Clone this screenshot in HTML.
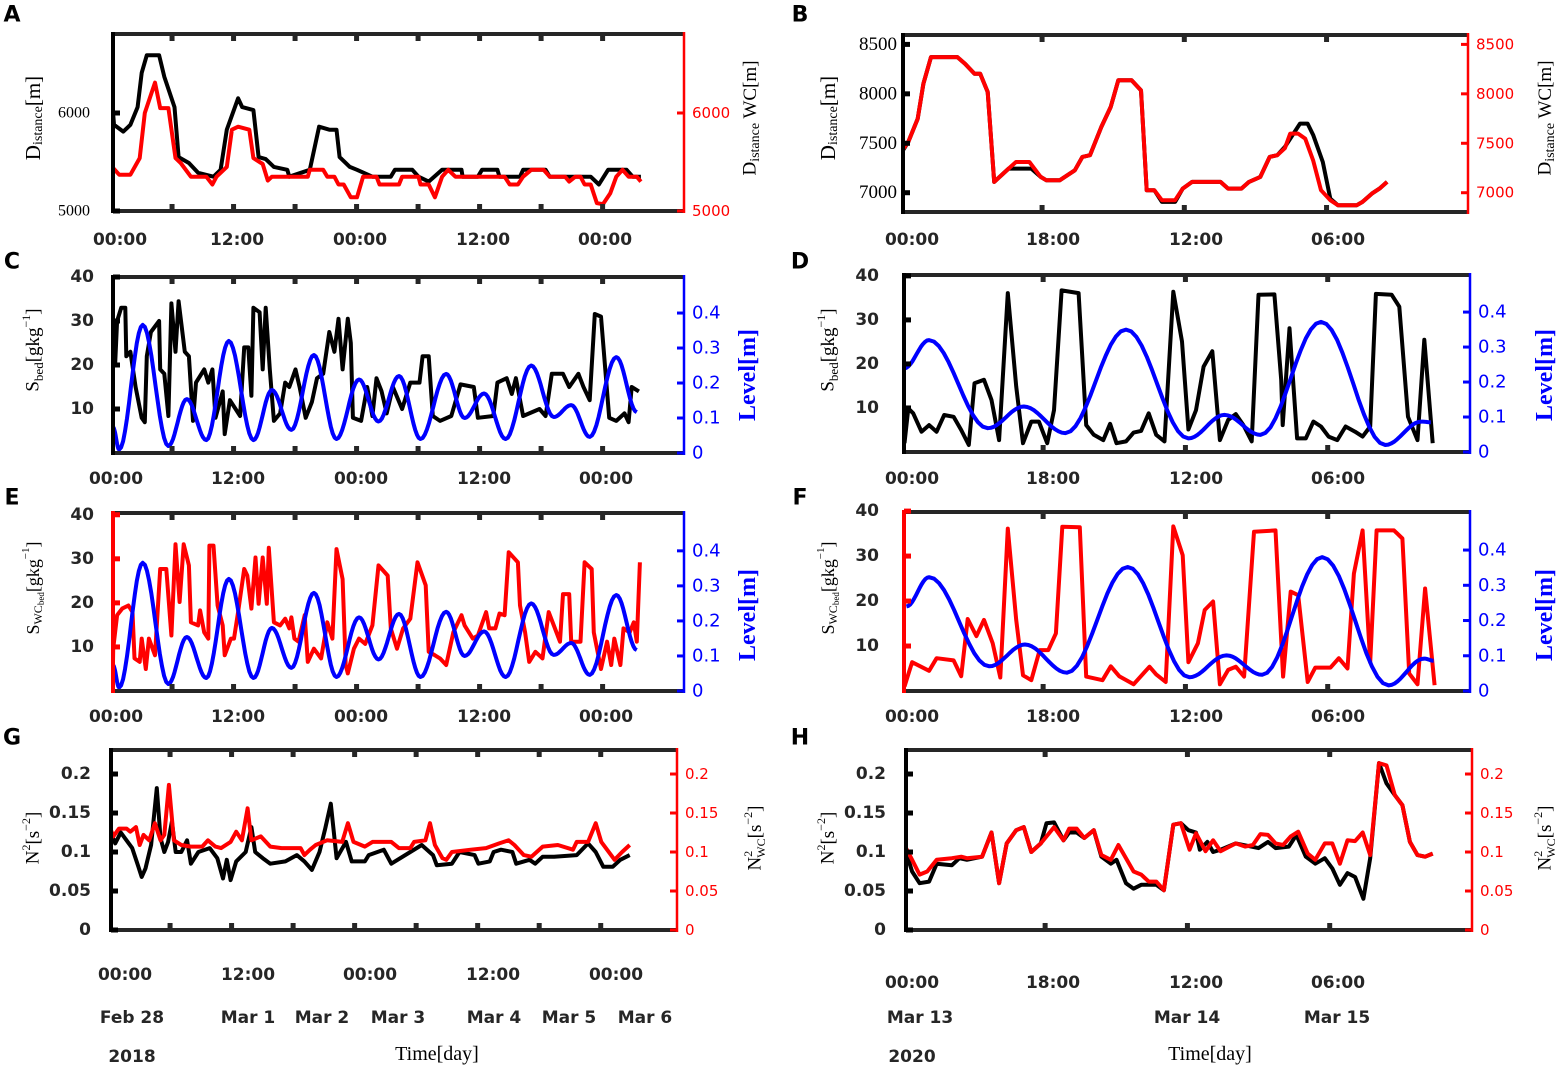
<!DOCTYPE html>
<html><head><meta charset="utf-8"><style>
html,body{margin:0;padding:0;background:#fff;}
svg{display:block;}
.tk{font-family:"DejaVu Sans","Liberation Sans",sans-serif;font-weight:bold;font-size:17px;fill:#262626;}
.st{font-family:"Liberation Serif","DejaVu Serif",serif;}
.sb{font-family:"Liberation Serif","DejaVu Serif",serif;font-weight:bold;}
.sn{font-family:"DejaVu Sans","Liberation Sans",sans-serif;}
</style></head><body>
<svg id="fig" width="1564" height="1072" viewBox="0 0 1564 1072" xmlns="http://www.w3.org/2000/svg"></svg>
<script>
// ---------- Panel A (2018 distance) ----------
const aBlackT=[0,0.1,1,1.7,2.4,2.8,3.3,4.5,5.0,6.0,6.4,7.4,8.3,9.8,10.5,11.1,12.2,12.6,13.7,14.2,14.9,15.7,17.0,17.2,19.2,20.1,21.1,21.8,22.1,23.1,23.8,25.3,27.1,27.5,29.2,29.8,30.8,32.1,34.0,34.1,35.6,36.0,37.5,37.7,39.7,40.0,42.2,42.6,46.6,47.4,48.3,50.1,50.7,51.5];
const aBlackV=[6010,5880,5810,5880,6060,6410,6590,6590,6370,6060,5550,5490,5390,5350,5420,5830,6150,6060,6030,5550,5530,5450,5420,5350,5420,5860,5830,5830,5550,5450,5420,5350,5350,5420,5420,5350,5300,5420,5420,5350,5350,5420,5420,5350,5350,5420,5420,5350,5350,5270,5420,5420,5350,5350];
const aRedT=[0,0.6,1.7,2.6,3.1,4.1,4.6,5.4,6.1,6.6,7.6,9.1,9.7,10.1,11.1,11.6,12.2,13.3,13.7,14.6,15.1,15.5,19.0,19.2,20.5,20.9,21.6,22.0,22.5,23.2,23.8,24.4,25.7,26.0,27.9,28.2,29.8,30.0,30.8,31.4,32.1,32.7,33.4,38.2,38.7,39.5,40.0,40.8,42.0,42.6,44.1,44.5,45.1,45.6,46.0,46.6,47.2,47.8,48.5,49.1,49.7,50.3,51.1,51.5];
const aRedV=[5440,5370,5370,5540,6000,6310,6050,6050,5540,5490,5350,5350,5270,5350,5450,5830,5860,5830,5540,5480,5310,5350,5350,5420,5420,5350,5350,5270,5270,5140,5140,5350,5350,5270,5270,5350,5350,5270,5270,5140,5350,5420,5350,5350,5270,5270,5350,5420,5420,5350,5350,5300,5350,5350,5270,5270,5080,5070,5180,5350,5420,5350,5350,5300];
// ---------- Panel B (2020 distance) ----------
const bBlackT=[0,0.67,1.86,2.58,3.54,6.89,7.85,9.05,9.77,10.72,11.54,13.36,16.23,17.43,18.15,19.83,21.74,22.7,23.66,25.1,26.29,27.25,28.93,30.12,30.84,31.8,32.76,34.44,35.39,36.59,40.18,41.14,42.82,43.78,45.21,46.41,47.37,48.33,50.24,51.2,51.92,53.12,54.07,55.03,57.43,58.15,59.34,60.3,61.26];
const bBlackV=[7429,7514,7749,8103,8372,8372,8305,8204,8204,8019,7109,7244,7244,7160,7126,7126,7227,7362,7379,7665,7867,8137,8137,8035,7025,7025,6907,6907,7042,7109,7109,7042,7042,7109,7160,7362,7379,7463,7699,7699,7581,7311,6941,6874,6874,6907,6991,7042,7109];
const bRedT=[0,0.67,1.86,2.58,3.54,6.89,7.85,9.05,9.77,10.72,11.54,13.36,14.3,16.0,17.43,18.15,19.83,21.74,22.7,23.66,25.1,26.29,27.25,28.93,30.12,30.84,31.8,32.76,34.44,35.39,36.59,40.18,41.14,42.82,43.78,45.21,46.41,47.37,48.33,49.0,50.0,50.9,51.9,52.9,54.07,55.03,57.43,58.15,59.34,60.3,61.26];
const bRedV=[7440,7514,7749,8103,8372,8372,8305,8204,8204,8019,7109,7244,7311,7311,7160,7126,7126,7227,7362,7379,7665,7867,8137,8137,8035,7025,7025,6924,6924,7042,7109,7109,7042,7042,7109,7160,7362,7379,7450,7598,7598,7547,7328,7025,6924,6874,6874,6907,6991,7042,7109];
// ---------- Panels C/E water level (2018) ----------
const lvl18T=[0,0.6,2.9,5.4,7.2,9.1,11.3,13.7,15.5,17.4,19.6,21.8,24.0,25.9,27.9,30.0,32.5,34.3,36.2,38.3,40.8,43.0,44.7,46.5,49.1,51.1];
const lvl18V=[0.074,0.01,0.366,0.02,0.154,0.037,0.32,0.037,0.18,0.066,0.28,0.04,0.21,0.09,0.22,0.04,0.226,0.1,0.17,0.04,0.25,0.103,0.137,0.046,0.274,0.117];
// ---------- Panel C S_bed (2018) ----------
const cSbedT=[0,0.2,0.4,0.8,1.2,1.3,1.7,2.2,2.8,3.1,3.3,3.7,4.5,4.6,5.0,5.4,5.7,6.1,6.4,7.0,7.4,7.8,8.1,8.9,9.3,9.7,10.0,10.7,10.9,11.4,12.4,12.8,13.2,13.5,13.7,14.3,14.6,14.9,15.3,15.7,16.3,16.8,17.2,17.8,18.2,18.8,19.4,19.9,20.5,21.1,21.6,22.0,22.4,22.9,23.2,23.4,24.2,24.8,25.3,25.7,26.2,26.7,27.3,28.2,29.0,29.9,30.2,30.8,31.2,31.9,33.0,33.9,35.2,35.6,37.1,37.5,38.4,38.9,39.3,40.0,41.6,42.2,42.8,43.9,44.5,45.4,45.9,46.5,47.0,47.6,48.4,49.1,49.9,50.3,50.6,51.3];
const cSbedV=[30,20,30,33,33,22,23,15,8,7,22,27.5,30,19,18,8.4,34,23,34.5,23,22,7.3,16,19,16,19,8,14,4.3,12,8.4,24,24,13,33,32,19,33,19,7.3,9,16,15,19,15,8,11.6,17,18,27.5,23,30.5,19,30.5,25,8,7.3,15,8.4,17,14,9,15,10,16,16,22,22,8.4,7.3,8.4,15.6,15,8,8.4,16,17,13.4,17,8.4,10,8.4,18,18,15,18,15,12,31.6,31,8,7.3,9,7,15,14];
// ---------- Panel E S_WC_bed (2018) ----------
const eSwcT=[0,0.02,0.4,0.9,1.5,1.9,2.1,2.6,2.8,3.2,3.5,4.1,4.6,5.2,5.7,6.1,6.5,6.9,7.4,7.6,8.3,8.5,8.9,9.3,9.4,9.8,10.2,10.7,10.9,11.5,11.8,12.2,12.8,13.1,13.5,13.9,14.2,14.6,15.0,15.2,15.7,16.3,16.8,17.2,17.4,17.7,18.1,18.7,19.0,19.6,20.3,20.9,21.4,21.8,22.4,22.7,22.9,23.5,24.0,24.6,25.3,25.9,26.8,27.1,27.7,28.3,29.0,29.7,30.5,30.8,31.4,31.9,32.5,33.2,34.0,34.3,35.1,35.6,36.4,36.7,37.3,37.7,38.2,38.6,39.5,39.7,40.2,40.6,41.2,41.9,42.5,43.0,43.6,43.9,44.5,44.7,45.6,46.0,46.7,46.9,47.6,48.2,48.6,48.9,49.5,49.8,50.4,50.8,51.1,51.4];
const eSwcV=[6.6,9.6,17.2,18.7,19.4,17.9,7.4,6.6,11.9,5,11.9,8.1,27.7,27.7,12.6,33.3,20.2,33.3,28.5,15.6,14.9,18.3,13.3,11.9,33,33,19.4,14.9,8.1,11.9,11.9,17.9,27.7,26.2,18.7,30.3,19.8,30.3,19.8,32.5,15.6,14.9,16.4,14.2,16.7,11.9,11.2,17.2,6.6,9.6,7.4,15.6,11.9,32.2,25.4,5.9,4,9.6,11.9,10.7,14.9,28.5,26.2,14.2,9.6,14.2,16.4,29.2,24,8.9,8.1,7.4,5.9,13.3,17.2,14.9,11.9,12.6,17.9,14.2,14.2,17.6,17.2,31.5,29.2,19.4,13.3,6.6,8.9,7.4,17.9,14.9,11.2,22,22,11.2,11.2,29.2,27.7,13.3,5,11.2,5.9,11.9,5.9,14.2,13.3,15.6,11.2,29.2];
// ---------- Panel D (2020) ----------
const dSbedT=[0.06,0.54,1.16,2.21,3.17,4.13,5.09,6.28,7.24,8.2,8.92,10.12,11.07,12.03,13.13,14.19,15.05,16.1,17.06,18.12,18.98,19.94,22.09,23.05,24.01,25.21,26.07,26.88,28.08,29.04,29.99,30.95,31.91,32.96,34.07,35.17,35.98,36.94,37.9,39.0,39.96,41.01,41.97,42.93,43.98,44.84,46.86,47.72,47.91,48.77,49.73,50.83,51.79,52.75,53.71,54.81,55.86,57.06,58.02,58.97,59.69,61.7,62.66,63.76,64.96,65.82,66.88];
const dSbedV=[2.0,9.9,8.8,4.6,6.1,4.6,8.4,8.0,5.0,1.6,15.6,16.4,11.8,2.7,36.1,14.9,2.0,6.9,6.9,2.0,9.5,36.7,36.1,6.1,3.9,2.7,6.4,2.0,2.4,4.4,4.8,8.8,3.9,2.4,36.4,25.1,5.1,9.5,19.4,22.9,2.7,7.3,8.6,6.1,2.4,35.7,35.8,16.4,6.1,28.1,3.1,3.1,6.9,5.8,3.5,2.7,5.8,4.6,3.5,5.8,35.9,35.7,33.0,8.0,2.7,25.5,2.0];
const lvlDT=[0,3.17,10.6,15.15,20.42,28.08,35.98,40.53,45.08,52.75,60.89,65.44,66.64];
const lvlDV=[0.239,0.32,0.068,0.13,0.054,0.35,0.039,0.106,0.049,0.372,0.02,0.087,0.085];
// ---------- Panel F (2020) ----------
const fSwcT=[0.06,1.02,3.17,4.13,6.28,7.24,8.06,9.16,10.12,11.22,12.18,13.13,14.19,15.05,16.1,17.16,18.26,19.22,20.03,22.24,23.05,25.11,26.16,27.22,29.04,31.05,31.91,33.11,34.07,35.26,35.98,37.18,38.04,39.1,39.96,41.01,41.97,43.02,44.27,47.0,47.96,48.92,49.87,51.07,52.03,53.95,55.0,56.1,56.91,58.02,58.97,59.79,61.99,63.05,63.91,64.96,65.92,67.12];
const fSwcV=[1.0,6.4,4.5,7.3,6.8,3.3,16.0,12.2,15.8,10.6,3.0,36.1,15.8,3.5,2.4,9.1,9.1,12.8,36.5,36.4,3.2,2.4,5.5,3.3,1.5,5.4,3.7,2.0,36.6,30.2,6.4,10.6,18.0,19.9,1.5,4.7,5.4,3.2,35.4,35.7,3.2,22.1,21.3,2.0,5.2,5.2,7.3,5.0,26.1,35.7,6.4,35.7,35.7,33.9,3.9,1.5,22.8,1.3];
const lvlFT=[0.3,3.17,10.8,15.3,20.6,28.3,36.1,40.8,45.3,52.9,61.3,65.8,67.0];
const lvlFV=[0.24,0.323,0.07,0.132,0.052,0.352,0.039,0.101,0.046,0.38,0.016,0.092,0.086];
// ---------- Panel G (2018 N2) ----------
const gBlackT=[0,0.41,0.96,1.51,2.07,2.62,2.99,3.36,3.91,4.47,4.83,5.2,5.57,5.94,6.31,6.86,7.42,7.79,8.52,9.63,10.37,10.92,11.29,11.66,12.21,13.14,13.69,14.06,14.8,15.54,17.01,18.12,18.86,19.59,20.33,20.89,21.44,22.0,22.92,23.47,24.76,25.13,26.61,27.34,29.19,30.3,31.4,31.77,33.25,33.99,35.46,35.83,36.94,37.31,38.04,39.15,39.52,40.81,41.37,42.1,43.21,45.42,46.53,47.27,48.01,48.93,49.67,50.59];
const gBlackV=[0.124,0.111,0.125,0.115,0.105,0.083,0.068,0.079,0.109,0.182,0.118,0.1,0.113,0.139,0.1,0.1,0.115,0.085,0.1,0.105,0.092,0.066,0.09,0.064,0.088,0.1,0.132,0.1,0.092,0.085,0.088,0.096,0.088,0.077,0.1,0.13,0.162,0.092,0.113,0.088,0.088,0.096,0.103,0.085,0.1,0.109,0.096,0.083,0.085,0.1,0.096,0.085,0.088,0.1,0.103,0.1,0.085,0.09,0.085,0.094,0.094,0.096,0.111,0.1,0.081,0.081,0.09,0.096];
const gRedT=[0,0.22,0.78,1.51,1.88,2.44,2.8,3.17,3.73,4.28,4.83,5.2,5.65,6.13,6.86,7.79,8.89,9.45,10.18,10.74,11.66,12.21,12.77,13.32,13.69,14.61,15.54,16.64,18.49,18.86,19.41,19.96,21.07,22.55,23.1,23.65,24.76,25.5,27.34,28.08,29.19,29.56,30.66,31.11,31.59,32.33,32.7,33.25,35.09,36.57,37.86,38.78,39.34,40.26,41.0,42.1,43.58,45.06,45.42,46.53,47.27,47.82,49.11,49.85,50.59];
const gRedV=[0.128,0.12,0.13,0.13,0.126,0.132,0.109,0.122,0.115,0.137,0.115,0.122,0.186,0.115,0.109,0.107,0.107,0.115,0.107,0.105,0.113,0.126,0.115,0.156,0.115,0.12,0.107,0.105,0.105,0.096,0.103,0.109,0.115,0.113,0.137,0.113,0.107,0.113,0.113,0.105,0.105,0.113,0.115,0.137,0.109,0.092,0.09,0.1,0.103,0.105,0.111,0.115,0.109,0.096,0.094,0.107,0.109,0.103,0.113,0.113,0.137,0.113,0.09,0.1,0.109];
// ---------- Panel H (2020 N2) ----------
const hBlackT=[0,0.77,1.72,2.92,3.88,5.8,6.75,7.71,9.63,10.82,11.78,12.74,13.94,14.9,15.85,17.05,17.77,18.73,19.93,20.64,21.6,22.56,23.76,24.72,25.91,26.63,27.83,28.79,29.75,31.66,32.62,33.82,34.77,35.73,36.69,37.17,38.13,38.85,39.8,41.72,44.59,45.79,46.75,48.43,49.38,50.58,51.78,52.98,53.93,54.89,55.85,56.81,57.86,58.72,59.83,60.78,61.84,62.8,63.75,64.71,65.67,66.63];
const hBlackV=[0.100,0.075,0.060,0.062,0.085,0.083,0.092,0.090,0.094,0.125,0.060,0.111,0.128,0.132,0.100,0.111,0.137,0.138,0.115,0.125,0.125,0.118,0.128,0.094,0.085,0.090,0.060,0.053,0.058,0.058,0.051,0.135,0.137,0.128,0.125,0.103,0.113,0.100,0.103,0.111,0.105,0.113,0.105,0.107,0.122,0.094,0.085,0.092,0.079,0.058,0.073,0.068,0.040,0.092,0.214,0.188,0.173,0.160,0.113,0.096,0.094,0.098];
const hRedT=[0,0.77,1.72,2.68,3.88,5.8,6.99,7.71,9.63,10.82,11.78,12.74,13.94,14.9,15.85,17.05,18.73,19.93,20.64,21.6,22.56,23.76,24.72,25.91,26.87,28.79,29.75,30.7,31.66,32.62,33.82,34.77,35.88,36.69,37.89,38.85,39.8,41.72,42.92,43.88,44.83,45.79,46.75,47.71,48.67,49.62,50.82,51.78,52.98,53.93,54.89,55.85,56.81,57.77,58.72,59.83,60.78,61.84,62.8,63.75,64.71,65.67,66.63];
const hRedV=[0.105,0.090,0.071,0.075,0.090,0.092,0.094,0.092,0.094,0.125,0.060,0.111,0.128,0.132,0.100,0.111,0.132,0.115,0.130,0.130,0.118,0.128,0.096,0.090,0.109,0.075,0.071,0.062,0.062,0.051,0.135,0.137,0.103,0.124,0.101,0.115,0.101,0.111,0.107,0.109,0.123,0.122,0.111,0.109,0.120,0.126,0.098,0.090,0.111,0.111,0.085,0.115,0.114,0.125,0.096,0.214,0.211,0.173,0.160,0.113,0.096,0.094,0.098];

const tick18=[5.76,11.76,17.76,23.76,29.76,35.76,41.76,47.76];
const tick20=[17.6,35.6,53.6];

const NS='http://www.w3.org/2000/svg';
const svg=document.getElementById('fig');
function mk(tag,attrs,parent){const e=document.createElementNS(NS,tag);for(const k in attrs)e.setAttribute(k,attrs[k]);(parent||svg).appendChild(e);return e;}
function txt(x,y,s,cls,anchor,fill,size,parent){const t=mk('text',{x:x,y:y,'text-anchor':anchor||'middle','dominant-baseline':'central',class:cls||'tk'},parent);if(fill)t.setAttribute('fill',fill);if(size)t.style.fontSize=size+'px';t.textContent=s;return t;}

function panel(p){
  const g=mk('g',{});
  
  
  const xs=t=>p.x0+(t)/p.T*(p.x1-p.x0);
  const ysL=v=>p.y1-(v-p.lmin)/(p.lmax-p.lmin)*(p.y1-p.y0);
  const ysR=v=>p.y1-(v-p.rmin)/(p.rmax-p.rmin)*(p.y1-p.y0);
  const clip=mk('clipPath',{id:'c'+p.id},g);mk('rect',{x:p.x0,y:p.y0-2,width:p.x1-p.x0,height:p.y1-p.y0+4},clip);
  const sg=mk('g',{'clip-path':'url(#c'+p.id+')'},g);
  p.series.forEach(s=>{
    const ys=s.right?ysR:ysL;let d='';
    if(s.smooth){
      for(let i=0;i<s.t.length-1;i++){const a=s.v[i],b=s.v[i+1],ta=s.t[i],tb=s.t[i+1];
        for(let k=0;k<=12;k++){const u=k/12,w=(1-Math.cos(Math.PI*u))/2;d+=(d?'L':'M')+xs(ta+(tb-ta)*u).toFixed(1)+','+ys(a+(b-a)*w).toFixed(1);}}
    } else {
      s.t.forEach((t,i)=>{d+=(i?'L':'M')+xs(t).toFixed(1)+','+ys(s.v[i]).toFixed(1);});
    }
    const path=mk('path',{d:d,fill:'none',stroke:s.color,'stroke-width':s.w||4,'stroke-linejoin':'round'},sg);
    
    
  });
  mk('line',{x1:p.x0,y1:p.y0,x2:p.x1,y2:p.y0,stroke:'#262626','stroke-width':4},g);
  mk('line',{x1:p.x0,y1:p.y1,x2:p.x1,y2:p.y1,stroke:'#262626','stroke-width':4},g);
  mk('line',{x1:p.x0,y1:p.y0-2,x2:p.x0,y2:p.y1+2,stroke:p.lcol,'stroke-width':4},g);
  mk('line',{x1:p.x1,y1:p.y0-2,x2:p.x1,y2:p.y1+2,stroke:p.rcol,'stroke-width':2.5},g);
  p.xticks.forEach(t=>{const x=xs(t);mk('rect',{x:x-2.5,y:p.y0,width:5,height:7,fill:'#262626'},g);mk('rect',{x:x-2.5,y:p.y1-7,width:5,height:7,fill:'#262626'},g);});
  p.lticks.forEach(v=>{const y=ysL(v);mk('rect',{x:p.x0,y:y-2.5,width:7,height:5,fill:p.lcol},g);});
  p.rticks.forEach(v=>{const y=ysR(v);mk('rect',{x:p.x1-7,y:y-1.5,width:7,height:3,fill:p.rcol},g);});
  p.llab.forEach((s,i)=>{txt(p.llx,ysL(p.lticks[i]),s,p.lcls||'tk','end',p.lcol,p.lsize);});
  p.rlab.forEach((s,i)=>{txt(p.x1+8,ysR(p.rticks[i]),s,'sn','start',p.rcol,p.rsize||15);});
  p.xlab.forEach((s,i)=>{txt(p.xlx[i],p.xly,s,'tk','middle','#262626',17);});
  return g;
}

[['A',12,15],['B',800,15],['C',12,262],['D',800,262],['E',12,498],['F',800,498],['G',12,738],['H',800,738]].forEach(a=>{
  const t=txt(a[1],a[2],a[0],'sn','middle','#000',22);t.style.fontWeight='bold';
  
  
});

const L18=['00:00','12:00','00:00','12:00','00:00'];
const L20=['00:00','18:00','12:00','06:00'];
const xl18=[120,237,360,483,605], xl20=[912,1053,1196,1338];

panel({id:'a',name:'panel-a',x0:113,x1:684,y0:34,y1:211,T:55.7,lmin:5000,lmax:6806,rmin:5000,rmax:6806,lcol:'#000',rcol:'#f00',
  xticks:tick18,lticks:[6000,5000],rticks:[6000,5000],llab:['6000','5000'],rlab:['6000','5000'],llx:90,lcls:'st',lsize:16,rsize:15,
  xlab:L18,xlx:xl18,xly:240,series:[{t:aBlackT,v:aBlackV,color:'#000',name:'distance-2018-line'},{t:aRedT,v:aRedV,color:'#f00',name:'distance-wc-2018-line'}]});
panel({id:'b',name:'panel-b',x0:903,x1:1468,y0:35,y1:212,T:71.5,lmin:6805,lmax:8595,rmin:6805,rmax:8595,lcol:'#000',rcol:'#f00',
  xticks:tick20,lticks:[8500,8000,7500,7000],rticks:[8500,8000,7500,7000],llab:['8500','8000','7500','7000'],rlab:['8500','8000','7500','7000'],llx:897,lcls:'st',lsize:19,rsize:15,
  xlab:L20,xlx:xl20,xly:240,series:[{t:bBlackT,v:bBlackV,color:'#000',name:'distance-2020-line'},{t:bRedT,v:bRedV,color:'#f00',name:'distance-wc-2020-line'}]});
panel({id:'c',name:'panel-c',x0:113,x1:684,y0:277,y1:453,T:55.7,lmin:0,lmax:40,rmin:0,rmax:0.503,lcol:'#000',rcol:'#00f',
  xticks:tick18,lticks:[40,30,20,10],rticks:[0.4,0.3,0.2,0.1,0],llab:['40','30','20','10'],rlab:['0.4','0.3','0.2','0.1','0'],llx:94,rsize:18,
  xlab:L18,xlx:[116,238,361,484,606],xly:479,series:[{t:cSbedT,v:cSbedV,color:'#000',name:'sbed-2018-line'},{t:lvl18T,v:lvl18V,color:'#00f',right:true,smooth:true,name:'level-2018-line'}]});
panel({id:'d',name:'panel-d',x0:904,x1:1470,y0:275,y1:452,T:71.6,lmin:0,lmax:40.2,rmin:0,rmax:0.506,lcol:'#000',rcol:'#00f',
  xticks:tick20,lticks:[40,30,20,10],rticks:[0.4,0.3,0.2,0.1,0],llab:['40','30','20','10'],rlab:['0.4','0.3','0.2','0.1','0'],llx:879,rsize:18,
  xlab:L20,xlx:xl20,xly:479,series:[{t:dSbedT,v:dSbedV,color:'#000',name:'sbed-2020-line'},{t:lvlDT,v:lvlDV,color:'#00f',right:true,smooth:true,name:'level-2020-line'}]});
panel({id:'e',name:'panel-e',x0:113,x1:684,y0:513,y1:691,T:55.7,lmin:0,lmax:40.4,rmin:0,rmax:0.508,lcol:'#f00',rcol:'#00f',
  xticks:tick18,lticks:[40,30,20,10],rticks:[0.4,0.3,0.2,0.1,0],llab:['40','30','20','10'],rlab:['0.4','0.3','0.2','0.1','0'],llx:94,rsize:18,
  xlab:L18,xlx:[116,238,361,484,606],xly:717,series:[{t:eSwcT,v:eSwcV,color:'#f00',name:'swc-bed-2018-line'},{t:lvl18T,v:lvl18V,color:'#00f',right:true,smooth:true,name:'level-2018-e-line'}]});
panel({id:'f',name:'panel-f',x0:904,x1:1470,y0:512,y1:691,T:71.6,lmin:0,lmax:39.8,rmin:0,rmax:0.508,lcol:'#f00',rcol:'#00f',
  xticks:tick20,lticks:[40,30,20,10],rticks:[0.4,0.3,0.2,0.1,0],llab:['40','30','20','10'],rlab:['0.4','0.3','0.2','0.1','0'],llx:879,rsize:18,
  xlab:L20,xlx:xl20,xly:717,series:[{t:fSwcT,v:fSwcV,color:'#f00',name:'swc-bed-2020-line'},{t:lvlFT,v:lvlFV,color:'#00f',right:true,smooth:true,name:'level-2020-f-line'}]});
panel({id:'g',name:'panel-g',x0:111,x1:677,y0:750,y1:930,T:55.2,lmin:0,lmax:0.2308,rmin:0,rmax:0.2308,lcol:'#000',rcol:'#f00',
  xticks:tick18,lticks:[0.2,0.15,0.1,0.05,0],rticks:[0.2,0.15,0.1,0.05,0],llab:['0.2','0.15','0.1','0.05','0'],rlab:['0.2','0.15','0.1','0.05','0'],llx:91,rsize:15,
  xlab:L18,xlx:[125,248,370,493,616],xly:975,series:[{t:gBlackT,v:gBlackV,color:'#000',name:'n2-2018-line'},{t:gRedT,v:gRedV,color:'#f00',name:'n2-wc-2018-line'}]});
panel({id:'h',name:'panel-h',x0:906,x1:1472,y0:750,y1:930,T:71.6,lmin:0,lmax:0.2308,rmin:0,rmax:0.2308,lcol:'#000',rcol:'#f00',
  xticks:tick20,lticks:[0.2,0.15,0.1,0.05,0],rticks:[0.2,0.15,0.1,0.05,0],llab:['0.2','0.15','0.1','0.05','0'],rlab:['0.2','0.15','0.1','0.05','0'],llx:886,rsize:15,
  xlab:L20,xlx:[912,1053,1196,1338],xly:983,series:[{t:hBlackT,v:hBlackV,color:'#000',name:'n2-2020-line'},{t:hRedT,v:hRedV,color:'#f00',name:'n2-wc-2020-line'}]});

function rtitle(x,y,html,fill,name,size,cls){
  const t=mk('text',{x:0,y:0,'text-anchor':'middle','dominant-baseline':'central',transform:'translate('+x+','+y+') rotate(-90)',class:cls||'st',fill:fill||'#000'});
  t.style.fontSize=(size||21)+'px';t.innerHTML=html;
  
  
}
const distL='D<tspan font-size="14" dy="5">istance</tspan><tspan dy="-5">[m]</tspan>';
const distR='D<tspan font-size="14" dy="5">istance</tspan><tspan dy="-5"> WC[m]</tspan>';
const sbed='S<tspan font-size="13" dy="5">bed</tspan><tspan dy="-5">[gkg</tspan><tspan font-size="12" dy="-7">−1</tspan><tspan dy="7">]</tspan>';
const swc='S<tspan font-size="12" dy="5">WC</tspan><tspan font-size="9" dy="3">bed</tspan><tspan dy="-8">[gkg</tspan><tspan font-size="11" dy="-7">−1</tspan><tspan dy="7">]</tspan>';
const n2='N<tspan font-size="12" dy="-7">2</tspan><tspan dy="7">[s</tspan><tspan font-size="12" dy="-7">−2</tspan><tspan dy="7">]</tspan>';
const n2wc='N<tspan font-size="12" dy="-7">2</tspan><tspan font-size="12" dx="-7" dy="13">WC</tspan><tspan dy="-6">[s</tspan><tspan font-size="12" dy="-7">−2</tspan><tspan dy="7">]</tspan>';
const lev='Level[m]';
rtitle(33,118,distL,'#000','y-axis-title-a-left');
rtitle(750,118,distR,'#000','y-axis-title-a-right',19);
rtitle(828,118,distL,'#000','y-axis-title-b-left');
rtitle(1545,118,distR,'#000','y-axis-title-b-right',19);
rtitle(33,350,sbed,'#000','y-axis-title-c-left',19);
rtitle(748,375,lev,'#00f','y-axis-title-c-right',24,'sb');
rtitle(828,350,sbed,'#000','y-axis-title-d-left',19);
rtitle(1545,375,lev,'#00f','y-axis-title-d-right',24,'sb');
rtitle(33,588,swc,'#000','y-axis-title-e-left',18);
rtitle(748,615,lev,'#00f','y-axis-title-e-right',24,'sb');
rtitle(828,588,swc,'#000','y-axis-title-f-left',18);
rtitle(1545,615,lev,'#00f','y-axis-title-f-right',24,'sb');
rtitle(33,838,n2,'#000','y-axis-title-g-left',19);
rtitle(755,838,n2wc,'#000','y-axis-title-g-right',19);
rtitle(828,838,n2,'#000','y-axis-title-h-left',19);
rtitle(1545,838,n2wc,'#000','y-axis-title-h-right',19);

const dates18=['Feb 28','Mar 1','Mar 2','Mar 3','Mar 4','Mar 5','Mar 6'];
const dates18x=[132,248,322,398,494,569,645];
dates18.forEach((s,i)=>{const t=txt(dates18x[i],1018,s,'tk','middle','#000',17);});
const dates20=['Mar 13','Mar 14','Mar 15'];
const dates20x=[920,1187,1337];
dates20.forEach((s,i)=>{const t=txt(dates20x[i],1018,s,'tk','middle','#000',17);});
const y18=txt(132,1057,'2018','tk','middle','#000',17);
const y20=txt(912,1057,'2020','tk','middle','#000',17);
const tl=txt(437,1054,'Time[day]','st','middle','#000',20);
const tr=txt(1210,1054,'Time[day]','st','middle','#000',20);
</script>
</body></html>
